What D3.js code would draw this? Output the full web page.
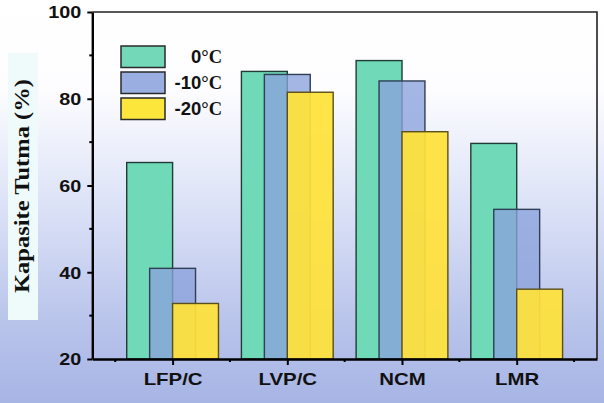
<!DOCTYPE html>
<html>
<head>
<meta charset="utf-8">
<script src="https://cdn.jsdelivr.net/npm/d3@7"></script>
<style>
  html, body { margin: 0; padding: 0; background: #fff; }
  svg { display: block; }
</style>
</head>
<body>
<svg id="chart" width="604" height="403"></svg>
<script>
// Capacity retention at low temperature for four cathode chemistries
const categories = ["LFP/C", "LVP/C", "NCM", "LMR"];
const seriesNames = ["0", "-10", "-20"];
const retention0 = [65.3, 86.3, 88.8, 69.7];
const retentionMinus10 = [40.9, 85.6, 84.1, 54.5];
const retentionMinus20 = [32.8, 81.5, 72.4, 36.1];
const yTicks = [20, 40, 60, 80, 100];
const yMinorTicks = [30, 50, 70, 90];

const series = [retention0, retentionMinus10, retentionMinus20];
const fills = ["#70d9b7", "#8aa2dc", "#ffe23a"];
const legendFills = ["#72d8b8", "#9aaee2", "#fde63c"];
const strokes = ["#1f3d34", "#2f3f55", "#5a4f1a"];
const opac = [1, 0.78, 0.93];

const svg = d3.select("#chart");
const W = 604, H = 403;

// background wash
const defs = svg.append("defs");
const grad = defs.append("linearGradient").attr("id", "bg")
  .attr("x1", 0).attr("y1", 0).attr("x2", 0).attr("y2", 1);
[[0, "#ffffff"], [0.22, "#fdfdff"], [0.5, "#dde3f7"], [0.8, "#b9c4eb"], [1, "#a7b5e5"]]
  .forEach(([o, c]) => grad.append("stop").attr("offset", o).attr("stop-color", c));
svg.append("rect").attr("width", W).attr("height", H).attr("fill", "url(#bg)");

const plotLeft = 92.3, plotRight = 597, plotTop = 12, plotBottom = 359;
const x = d3.scaleLinear().domain([0.3, 4.7]).range([plotLeft, plotRight]);
const y = d3.scaleLinear().domain([20, 100]).range([plotBottom, plotTop]);
const barW = 0.4;
const offsets = [-0.4, -0.2, 0];

// y label panel
svg.append("rect").attr("x", 8).attr("y", 53).attr("width", 30).attr("height", 267)
  .attr("fill", "#effbfb");

// stretch text horizontally a little (wide glyph look)
function widen(sel, k) {
  sel.each(function () {
    const n = this.getComputedTextLength();
    d3.select(this).attr("textLength", n * k).attr("lengthAdjust", "spacingAndGlyphs");
  });
}

// bars, drawn series by series so later ones sit on top
series.forEach((vals, si) => {
  svg.append("g").selectAll("rect").data(vals).join("rect")
    .attr("x", (d, i) => x(i + 1 + offsets[si]))
    .attr("y", d => y(d))
    .attr("width", x(barW) - x(0))
    .attr("height", d => y(20) - y(d))
    .attr("fill", fills[si])
    .attr("fill-opacity", opac[si])
    .attr("stroke", strokes[si])
    .attr("stroke-width", 1.4);
});

// frame: top and right
svg.append("path")
  .attr("d", `M${plotLeft},${plotTop}H${plotRight}V${plotBottom}`)
  .attr("fill", "none").attr("stroke", "#222").attr("stroke-width", 1.6);

// y axis
const yAxis = svg.append("g").attr("transform", `translate(${plotLeft},0)`);
yAxis.call(d3.axisLeft(y).tickValues(yTicks).tickSize(5).tickSizeOuter(0).tickFormat(d3.format("d")));
yAxis.append("g").selectAll("line").data(yMinorTicks).join("line")
  .attr("x1", 0).attr("x2", -3).attr("y1", d => y(d)).attr("y2", d => y(d))
  .attr("stroke", "#000").attr("stroke-width", 2);
yAxis.select(".domain").attr("stroke-width", 2.4);
yAxis.selectAll(".tick line").attr("stroke-width", 2);
yAxis.selectAll(".tick text")
  .attr("x", -11).attr("dy", "0.36em")
  .style("font-family", "'Liberation Sans', Arial, sans-serif")
  .style("font-weight", "bold").style("font-size", "16.5px").attr("fill", "#111")
  .call(widen, 1.2);

// x axis
const xAxis = svg.append("g").attr("transform", `translate(0,${plotBottom})`);
xAxis.call(d3.axisBottom(x).tickValues([1, 2, 3, 4]).tickSize(6).tickSizeOuter(0)
  .tickFormat((d, i) => categories[i]));
xAxis.append("g").selectAll("line").data([0.5, 1.5, 2.5, 3.5, 4.5]).join("line")
  .attr("x1", d => x(d)).attr("x2", d => x(d)).attr("y1", 0).attr("y2", 3)
  .attr("stroke", "#000").attr("stroke-width", 2);
xAxis.select(".domain").attr("stroke-width", 2.4);
xAxis.selectAll(".tick line").attr("stroke-width", 2);
xAxis.selectAll(".tick text")
  .attr("y", 14).attr("dy", "0.71em")
  .style("font-family", "'Liberation Sans', Arial, sans-serif")
  .style("font-weight", "bold").style("font-size", "17px").attr("fill", "#111")
  .call(widen, 1.2);

// y label, reading bottom to top
svg.append("text")
  .attr("transform", "translate(28.5,293) rotate(-90) scale(1,1.15)")
  .attr("text-anchor", "start")
  .style("font-family", "'Liberation Serif', 'Times New Roman', serif")
  .style("font-weight", "bold").style("font-size", "19px").attr("fill", "#111")
  .text("Kapasite Tutma (%)")
  .attr("textLength", 214).attr("lengthAdjust", "spacingAndGlyphs");

// legend
const legend = svg.append("g");
seriesNames.forEach((name, i) => {
  const ly = 46 + i * 26;
  legend.append("rect").attr("x", 121).attr("y", ly).attr("width", 44).attr("height", 21.5)
    .attr("fill", legendFills[i]).attr("stroke", "#2a2a2a").attr("stroke-width", 1.5);
  const t = legend.append("text").attr("x", 222).attr("y", ly + 17)
    .attr("text-anchor", "end").attr("fill", "#111")
    .style("font-weight", "bold").style("font-size", "18.5px");
  t.append("tspan").style("font-family", "'Liberation Sans', Arial, sans-serif").text(name);
  t.append("tspan").style("font-family", "'Liberation Serif', 'Times New Roman', serif").text("\u00B0C");
});
</script>
</body>
</html>
